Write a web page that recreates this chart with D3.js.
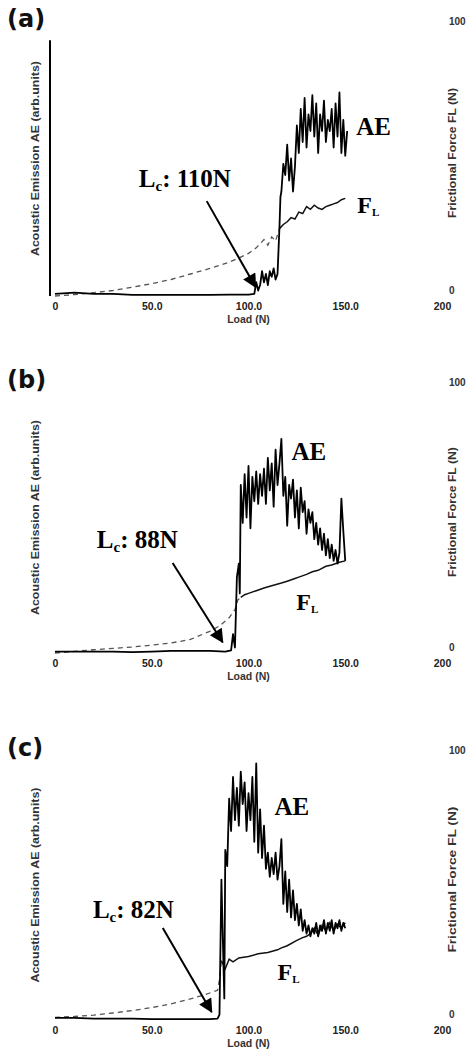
<!DOCTYPE html>
<html>
<head>
<meta charset="utf-8">
<script src="https://cdn.jsdelivr.net/npm/d3@7"></script>
<style>
  body { margin: 0; background: #fff; }
  text { font-family: "Liberation Sans", Arial, sans-serif; }
</style>
</head>
<body>
<div id="container"></div>
<script>
/* CONSTANTS AND GLOBALS */
const width = 471;
const height = 1056;

/* DATA */
const loadTicks = [0, 50, 100, 150, 200];
const loadTickLabels = ["0", "50.0", "100.0", "150.0", "200"];
const forceTicks = [0, 100];
const forceTickLabels = ["0", "100"];
const panelLabels = ["(a)", "(b)", "(c)"];
const criticalLoads = ["110N", "88N", "82N"];

// (a) acoustic emission + frictional force vs load
const aeLoadA = [0,10,20,30,40,50,60,70,80,90,100,
  103,104,105,106,107,108,109,110,111,112,113,114,115,116,116.5,
  117,118,119,120,121,122,123,124,125,126,127,128,129,130,131,132,133,134,135,136,
  137,138,139,140,141,142,143,144,145,146,147,148,149,150,151];
const aeA = [0.8,1.2,0.8,0.8,0.4,0.4,0.4,0.4,0.4,0.5,0.5,
  0.8,5,2,4,9,5,8,4,9,7,10,6,8,25,36,
  38,48,44,55,42,50,38,47,62,52,68,56,72,54,66,60,73,58,70,52,
  66,60,71,56,64,60,68,54,70,58,74,52,64,51,60];
const fLoadA = [0,10,20,30,40,50,60,70,80,90,95,100,
  104,106,108,110,112,114,116,118,120,122,124,126,128,130,132,134,136,138,140,142,144,146,148,150];
const fA = [0,0.5,1.2,2,3.2,4.5,6,8,10,12.3,13.8,15.5,
  17.5,19,20.5,18.5,21.5,20,24.5,26,27,28.5,28,30.5,30,32.5,31.5,33,32,31.5,32.5,33,33.5,34,35,35.5];

// (b)
const aeLoadB = [0,10,20,30,40,50,60,70,80,88,91,92,93,94,95,95.5,
  96,97,98,99,100,101,102,103,104,105,106,107,108,109,110,111,112,113,114,115,
  116,117,118,119,120,121,122,123,124,125,126,127,128,129,130,131,132,133,134,135,
  136,137,138,139,140,141,142,143,144,145,146,147,148,149,150];
const aeB = [0.5,0.5,0.5,0.5,0.3,0.5,0.8,0.8,0.8,0.5,1,7,2,28,33,22,
  62,48,66,50,69,46,65,56,67,55,66,58,68,55,72,60,70,54,75,62,
  70,79,58,65,47,62,57,64,50,60,46,61,52,56,44,53,48,52,42,48,
  40,46,38,44,36,42,35,40,34,38,33,37,57,45,34];
const fLoadB = [0,10,20,30,40,50,60,70,80,85,90,93,94.5,96,98,100,
  104,108,112,117,120,124,126,130,133,136,140,143,147,150];
const fB = [0,0.6,1.2,1.7,2.2,2.9,3.7,5,8,10,13,16,19.6,20.5,21.5,22,
  23,24,24.8,25.8,26.5,27.5,28,29,30,30.5,32,32.5,33.5,34];

// (c)
const aeLoadC = [0,10,20,30,40,50,60,70,80,84,85,86,86.6,87.5,88,89,
  90,91,92,93,94,95,96,97,98,99,100,101,102,103,104,105,106,107,108,109,
  110,111,112,113,114,115,116,117,118,119,120,121,122,123,124,125,126,127,128,129,
  130,131,132,133,134,135,136,137,138,139,140,141,142,143,144,145,146,147,148,149,150];
const aeC = [0.8,0.8,0.5,0.5,0.5,0.3,0.3,0.3,0.3,0.5,2,52,34,8,63,57,
  82,70,90,74,86,72,92,80,88,70,84,74,90,66,95,62,78,60,72,56,
  62,53,60,54,62,52,57,67,43,55,40,52,38,48,37,43,35,41,33,37,
  32,35,31,34,32,36,31,35,33,37,32,36,33,37,32,36,34,37,33,36,34];
const fLoadC = [0,10,20,30,40,50,60,70,78,82,84,85,86,88,90,92,95,
  100,105,110,115,117,120,125,128,130,132,134,136,138,140,142,144,146,148,150];
const fC = [1,1.3,1.8,2.6,3.5,4.6,6,7.8,9.5,10.5,11,15,22,19,22.5,21.5,23,
  23.5,24.5,25,26,26.7,27.5,29.5,30.5,31,32,34,31.5,35,33,36,33,35.5,34,36];

/* LAYOUT (pixel frame of each panel + annotation anchors in data units) */
const panels = [
  {label: panelLabels[0], lc: criticalLoads[0], aeLoad: aeLoadA, ae: aeA, fLoad: fLoadA, f: fA,
   split: 116, base: 296, top: 21, leftAxis: 93, rightTitleLen: 130,
   aeText: [155.7, 58.5], fText: [156.2, 30.2], lcText: [43.3, 39.6], arrow: [[78.4, 34.5], [103.6, 3.3]]},
  {label: panelLabels[1], lc: criticalLoads[1], aeLoad: aeLoadB, ae: aeB, fLoad: fLoadB, f: fB,
   split: 96, base: 653, top: 382, leftAxis: null, rightTitleLen: 130,
   aeText: [122.2, 71.2], fText: [124.7, 15.9], lcText: [21.6, 38.7], arrow: [[60.8, 33.2], [86.6, 4]]},
  {label: panelLabels[2], lc: criticalLoads[2], aeLoad: aeLoadC, ae: aeC, fLoad: fLoadC, f: fC,
   split: 86, base: 1020, top: 750, leftAxis: null, rightTitleLen: 146,
   aeText: [113.4, 75.9], fText: [115, 14.8], lcText: [19.6, 37.8], arrow: [[55.7, 34.1], [80.9, 3]]}
];

/* SCALES */
const xScale = d3.scaleLinear()
  .domain([0, 200])
  .range([55, 442]);

/* HTML ELEMENTS */
const svg = d3.select("#container")
  .append("svg")
  .attr("width", width)
  .attr("height", height)
  .style("background", "#fff");

svg.append("defs").append("marker")
  .attr("id", "head")
  .attr("viewBox", "0 0 10 10")
  .attr("refX", 9)
  .attr("refY", 5)
  .attr("markerUnits", "userSpaceOnUse")
  .attr("markerWidth", 20)
  .attr("markerHeight", 14)
  .attr("orient", "auto")
  .append("path")
  .attr("d", "M0,0 L10,5 L0,10 z")
  .attr("fill", "#000");

const serif = "'Liberation Serif', 'Times New Roman', serif";

panels.forEach(p => {
  const yScale = d3.scaleLinear()
    .domain([0, 100])
    .range([p.base, p.top]);

  const g = svg.append("g");
  const line = d3.line()
    .x(d => xScale(d[0]))
    .y(d => yScale(d[1]));

  // x axis (labels only)
  g.append("g")
    .attr("transform", `translate(0,${p.base})`)
    .call(d3.axisBottom(xScale)
      .tickValues(loadTicks)
      .tickFormat((d, i) => loadTickLabels[i])
      .tickSize(0)
      .tickPadding(7))
    .call(a => a.select(".domain").remove())
    .selectAll("text")
    .attr("font-size", 10.5)
    .attr("font-weight", "bold")
    .attr("fill", "#222")
    .style("font-family", "'Liberation Sans', Arial, sans-serif");

  g.append("text")
    .attr("x", xScale(100))
    .attr("y", p.base + 27)
    .attr("text-anchor", "middle")
    .attr("font-size", 10.5)
    .attr("font-weight", "bold")
    .attr("fill", "#333")
    .text("Load (N)");

  // right axis (labels only)
  g.append("g")
    .attr("transform", `translate(447,0)`)
    .call(d3.axisRight(yScale)
      .tickValues(forceTicks)
      .tickFormat((d, i) => forceTickLabels[i])
      .tickSize(0)
      .tickPadding(2))
    .call(a => a.select(".domain").remove())
    .selectAll("text")
    .attr("font-size", 10)
    .attr("font-weight", "bold")
    .attr("fill", "#333")
    .attr("dy", (d) => d == 0 ? "-0.3em" : "0.32em")
    .style("font-family", "'Liberation Sans', Arial, sans-serif");

  // left axis line only visible in panel (a)
  if (p.leftAxis) {
    g.append("line")
      .attr("x1", 50).attr("x2", 50)
      .attr("y1", yScale(0)).attr("y2", yScale(p.leftAxis))
      .attr("stroke", "#000")
      .attr("stroke-width", 2);
  }

  // axis titles
  const midY = yScale(50);
  g.append("text")
    .attr("transform", `translate(39,${midY}) rotate(-90)`)
    .attr("text-anchor", "middle")
    .attr("font-size", 10.5)
    .attr("font-weight", "bold")
    .attr("fill", "#333")
    .attr("textLength", 195)
    .attr("lengthAdjust", "spacingAndGlyphs")
    .text("Acoustic Emission AE (arb.units)");

  g.append("text")
    .attr("transform", `translate(456,${yScale(52)}) rotate(-90)`)
    .attr("text-anchor", "middle")
    .attr("font-size", 10)
    .attr("font-weight", "bold")
    .attr("fill", "#333")
    .attr("textLength", p.rightTitleLen)
    .attr("lengthAdjust", "spacingAndGlyphs")
    .text("Frictional Force FL (N)");

  // panel label
  g.append("text")
    .attr("x", 7)
    .attr("y", p.top + 6)
    .attr("font-size", 24)
    .attr("font-weight", "bold")
    .attr("fill", "#111")
    .style("font-family", "'DejaVu Sans', sans-serif")
    .text(p.label);

  // frictional force: dashed before the critical load, solid after
  const fPts = d3.zip(p.fLoad, p.f);
  g.append("path")
    .datum(fPts.filter(d => d[0] <= p.split))
    .attr("d", line)
    .attr("fill", "none")
    .attr("stroke", "#555")
    .attr("stroke-width", 1.3)
    .attr("stroke-dasharray", "5,4");
  g.append("path")
    .datum(fPts.filter(d => d[0] >= p.split))
    .attr("d", line)
    .attr("fill", "none")
    .attr("stroke", "#111")
    .attr("stroke-width", 1.5);

  // acoustic emission
  g.append("path")
    .datum(d3.zip(p.aeLoad, p.ae))
    .attr("d", line)
    .attr("fill", "none")
    .attr("stroke", "#000")
    .attr("stroke-width", 1.8)
    .attr("stroke-linejoin", "round");

  // annotations
  g.append("text")
    .attr("x", xScale(p.aeText[0]))
    .attr("y", yScale(p.aeText[1]))
    .attr("font-size", 25)
    .attr("font-weight", "bold")
    .style("font-family", serif)
    .text("AE");

  const fl = g.append("text")
    .attr("x", xScale(p.fText[0]))
    .attr("y", yScale(p.fText[1]))
    .attr("font-size", 24)
    .attr("font-weight", "bold")
    .style("font-family", serif);
  fl.append("tspan").text("F");
  fl.append("tspan").attr("font-size", 11).attr("dy", 3).text("L");

  const lc = g.append("text")
    .attr("x", xScale(p.lcText[0]))
    .attr("y", yScale(p.lcText[1]))
    .attr("font-size", 25)
    .attr("font-weight", "bold")
    .style("font-family", serif);
  lc.append("tspan").text("L");
  lc.append("tspan").attr("font-size", 15).attr("dy", 4).text("c");
  lc.append("tspan").attr("dy", -4).text(": " + p.lc);

  g.append("line")
    .attr("x1", xScale(p.arrow[0][0]))
    .attr("y1", yScale(p.arrow[0][1]))
    .attr("x2", xScale(p.arrow[1][0]))
    .attr("y2", yScale(p.arrow[1][1]))
    .attr("stroke", "#000")
    .attr("stroke-width", 2)
    .attr("marker-end", "url(#head)");
});
</script>
</body>
</html>
